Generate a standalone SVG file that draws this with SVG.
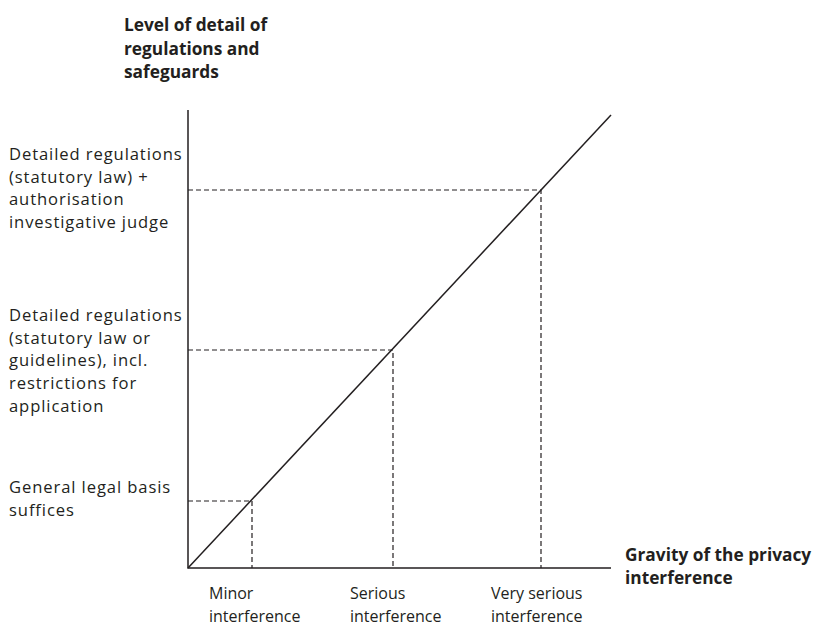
<svg xmlns="http://www.w3.org/2000/svg" width="816" height="627" viewBox="0 0 816 627">
<style>
text{font-family:"Open Sans","Noto Sans","Liberation Sans",sans-serif;font-size:16px;fill:#231f20}
.b{font-weight:bold;font-size:17.3px}
.l{font-size:16.6px;letter-spacing:0.9px}
.ax{stroke:#231f20;stroke-width:1.5;fill:none}
.d{stroke:#231f20;stroke-width:1.2;stroke-dasharray:5,3;fill:none}
</style>
<rect width="816" height="627" fill="#fff"/>
<g id="connectors">
<path class="ax" d="M188,110 V568 H611"/>
<path class="ax" d="M188,568 L611,115"/>
<path class="d" d="M188,190 H541 V568"/>
<path class="d" d="M188,350 H393 V568"/>
<path class="d" d="M188,501 H252 V568"/>
</g>
<g id="y-axis-title"><text class="b" x="124" y="31">Level of detail of</text><text class="b" x="124" y="55">regulations and</text><text class="b" x="124" y="78">safeguards</text></g>
<g id="x-axis-title"><text class="b" x="625" y="561">Gravity of the privacy</text><text class="b" x="625" y="584">interference</text></g>
<g id="level-high"><text class="l" x="9" y="160">Detailed regulations</text><text class="l" x="9" y="183">(statutory law) +</text><text class="l" x="9" y="205">authorisation</text><text class="l" x="9" y="228">investigative judge</text></g>
<g id="level-mid"><text class="l" x="9" y="321">Detailed regulations</text><text class="l" x="9" y="344">(statutory law or</text><text class="l" x="9" y="366">guidelines), incl.</text><text class="l" x="9" y="389">restrictions for</text><text class="l" x="9" y="412">application</text></g>
<g id="level-low"><text class="l" x="9" y="493">General legal basis</text><text class="l" x="9" y="516">suffices</text></g>
<g id="minor"><text x="209" y="599">Minor</text><text x="209" y="622">interference</text></g>
<g id="serious"><text x="350" y="599">Serious</text><text x="350" y="622">interference</text></g>
<g id="very-serious"><text x="491" y="599">Very serious</text><text x="491" y="622">interference</text></g>
</svg>
